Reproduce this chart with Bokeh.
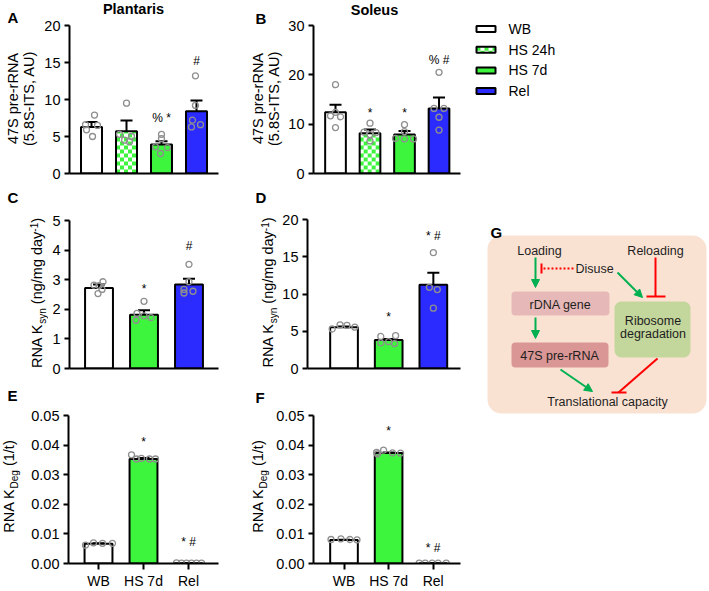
import math
from bokeh.plotting import figure
from bokeh.layouts import row, column
from bokeh.models import (ColumnDataSource, Range1d, FixedTicker, Whisker, TeeHead,
                          NumeralTickFormatter, Arrow, NormalHead)
from bokeh.core.properties import value, field
from bokeh.embed import file_html
from bokeh.resources import INLINE

# ------------------------------------------------------------------ data
groups4 = ["WB", "HS 24h", "HS 7d", "Rel"]
groups3 = ["WB", "HS 7d", "Rel"]

# A  Plantaris 47S pre-rRNA
a_mean = [6.3, 5.7, 3.92, 8.42]
a_sem = [0.65, 1.45, 0.45, 1.44]
a_points = [[7.9, 6.6, 6.5, 5.9, 5.0], [9.5, 5.3, 5.0, 4.5, 4.3],
            [5.3, 4.7, 3.6, 3.5, 2.7], [13.2, 9.2, 7.2, 6.6, 6.3]]
a_sig = ["", "", "% *", "#"]
a_sig_y = [0, 0, 7.0, 14.6]
a_ticks = [0, 5, 10, 15, 20]

# B  Soleus 47S pre-rRNA
b_mean = [12.4, 8.17, 7.9, 13.2]
b_sem = [1.55, 0.73, 0.7, 2.2]
b_points = [[18.0, 12.4, 11.7, 11.5, 9.3], [10.2, 8.4, 8.3, 7.9, 6.6],
            [9.9, 8.5, 7.1, 7.0, 7.0], [20.5, 13.2, 13.2, 11.4, 8.8]]
b_sig = ["", "*", "*", "% #"]
b_sig_y = [0, 11.4, 11.4, 22.2]
b_ticks = [0, 10, 20, 30]

# C  Plantaris RNA Ksyn
c_mean = [2.72, 1.82, 2.84]
c_sem = [0.12, 0.15, 0.19]
c_points = [[2.93, 2.82, 2.80, 2.67, 2.53], [2.27, 1.86, 1.78, 1.72, 1.63],
            [3.52, 2.93, 2.67, 2.61, 2.55]]
c_sig = ["", "*", "#"]
c_sig_y = [0, 2.56, 4.0]
c_ticks = [0, 1, 2, 3, 4, 5]

# D  Soleus RNA Ksyn
d_mean = [5.53, 3.82, 11.24]
d_sem = [0.12, 0.15, 1.62]
d_points = [[5.85, 5.78, 5.55, 5.3], [4.4, 4.3, 3.6, 3.45, 3.35],
            [15.55, 10.9, 10.6, 8.1]]
d_sig = ["", "*", "* #"]
d_sig_y = [0, 6.3, 17.2]
d_ticks = [0, 5, 10, 15, 20]

# E  Plantaris RNA Kdeg
e_mean = [0.0067, 0.0353, 0.0001]
e_sem = [0.0001, 0.0003, 0.00003]
e_points = [[0.0062, 0.0070, 0.0068, 0.0068], [0.0367, 0.0353, 0.0355, 0.0353, 0.0353],
            [0.0002, 0.0001, 0.0001, 0.0001, 0.0001, 0.0001]]
e_sig = ["", "*", "* #"]
e_sig_y = [0, 0.0398, 0.0057]
e_ticks = [0, 0.01, 0.02, 0.03, 0.04, 0.05]

# F  Soleus RNA Kdeg
f_mean = [0.0079, 0.0373, 0.00005]
f_sem = [0.0001, 0.0002, 0.00002]
f_points = [[0.0081, 0.0083, 0.0081, 0.0080], [0.0375, 0.0383, 0.0370, 0.0374, 0.0373],
            [0.0001, 0.0001, 0.0001, 0.0001, 0.0001]]
f_sig = ["", "*", "* #"]
f_sig_y = [0, 0.0432, 0.0039]
f_ticks = [0, 0.01, 0.02, 0.03, 0.04, 0.05]

# ------------------------------------------------------------------ point spread (px)
a_jit = [[3, -6, 6, -5, 1], [0, -7, 5, -2, 3], [0, 0, -6, 6, -1], [-1, -1, -4, 4, -5]]
b_jit = [[0, 0, -5, 5, 0], [0, -6, 6, 0, 0], [0, 0, -9, 0, 9], [0, -5, 5, 0, 0]]
c_jit = [[4, -5, 0, 3, -1], [0, -7, 0, 7, -8], [0, 0, -5, 4, -5]]
d_jit = [[-4, 3, 11, -12], [7, -8, 0, -8, 6], [0, -4, 4, 0]]
e_jit = [[-13, -5, 4, 14], [-12, -7, -2, 6, 12], [-12, -7, -2, 3, 8, 13]]
f_jit = [[-13, -3, 6, 13], [-12, -5, -11, 4, 12], [-14, -8, -1, 5, 13]]

# ------------------------------------------------------------------ styles / layout
FONT = "Liberation Sans"
GREEN = "#3EF53E"
BLUE = "#2B2BFF"
PT_COLOR = "#8f8f8f"
FILL = {"WB": "#FFFFFF", "HS 24h": "#FFFFFF", "HS 7d": GREEN, "Rel": BLUE}
CHECKER = {"HS 24h": True}
CHECK_PX = 4
MID = 0.35   # distance baseline -> visual middle, in em

# page-pixel geometry: cell = (x0, x1, y0, y1); split = x where label strip ends;
# title = y where title strip ends; frame = (left, right, top, bottom)
GEOM = {
    "A": dict(cell=(0, 236, 0, 190), split=40, title=18, frame=(69, 218, 25, 173), xr=(-0.629, 3.629)),
    "B": dict(cell=(236, 462, 0, 190), split=285, title=18, frame=(313, 460, 25, 173), xr=(-0.638, 3.623)),
    "C": dict(cell=(0, 236, 190, 378), split=48, title=None, frame=(69, 218, 220, 368), xr=(-0.656, 2.656)),
    "D": dict(cell=(236, 462, 190, 378), split=279, title=None, frame=(305, 460, 219, 368), xr=(-0.818, 2.608)),
    "E": dict(cell=(0, 236, 378, 591), split=22, title=None, frame=(68, 218, 415, 564), xr=(-0.667, 2.667)),
    "F": dict(cell=(236, 462, 378, 591), split=270, title=None, frame=(313, 460, 415, 564), xr=(-0.684, 2.612)),
}

WIDTHS = {'R': 722, 'N': 722, 'A': 667, 'K': 667, 's': 500, 'y': 500, 'n': 556, ' ': 278,
          '(': 333, ')': 333, 'g': 556, '/': 278, 'm': 833, 'd': 556, 'a': 556, '-': 333,
          '1': 556, 'D': 722, 'e': 556, 't': 278}


def tw(text, size):
    return sum(WIDTHS.get(c, 556) for c in text) * size / 1000.0


def page_fig(cell):
    cx0, cx1, cy0, cy1 = cell
    p = figure(width=cx1 - cx0, height=cy1 - cy0, x_range=Range1d(cx0, cx1),
               y_range=Range1d(cy1, cy0), output_backend="svg", toolbar_location=None,
               title=None, x_axis_location=None, y_axis_location=None, min_border=0)
    p.outline_line_color = None
    p.xgrid.visible = False
    p.ygrid.visible = False
    return p


def put(p, px, py, text, size, bold=False, align="left", angle=0.0):
    """(px, py) is the baseline point of the text, in page pixels"""
    up = MID * size
    ax = px - up * math.sin(angle)
    ay = py - up * math.cos(angle)
    p.text(x=[ax], y=[ay], text=[text], text_font=value(FONT), text_font_size=value("%spx" % size),
           text_font_style="bold" if bold else "normal", text_align=align,
           text_baseline="middle", angle=angle, text_color="black")


def rot_composite(p, base_x, center_y, pieces):
    # pieces: (text, size, baseline shift up, gap before)
    total = sum(tw(t, s) + gap for t, s, _, gap in pieces)
    y = center_y + total / 2.0
    for t, s, shift, gap in pieces:
        y -= gap
        put(p, base_x - shift, y, t, s, angle=math.pi / 2)
        y -= tw(t, s)


def checker_quads(x_lo, x_hi, y_lo, y_hi, dx, dy):
    """squares of a checker fill covering the box (x_lo..x_hi, y_lo..y_hi)"""
    ls, rs, bs, ts = [], [], [], []
    r = 0
    y = y_lo
    while y < y_hi - 1e-12:
        c = 0
        x = x_lo
        while x < x_hi - 1e-12:
            if (r + c) % 2 == 0:
                ls.append(x); rs.append(min(x + dx, x_hi))
                bs.append(y); ts.append(min(y + dy, y_hi))
            x += dx
            c += 1
        y += dy
        r += 1
    return ls, rs, bs, ts


def style_axis(ax):
    ax.axis_line_width = 2
    ax.axis_line_color = "black"
    ax.major_tick_line_width = 2
    ax.major_tick_line_color = "black"
    ax.major_tick_in = 0
    ax.minor_tick_line_color = None
    ax.major_label_text_font = FONT
    ax.major_label_text_font_size = "14.5px"
    ax.major_label_text_color = "black"


def bar_panel(key, groups, mean, sem, points, jit, sig, sig_y, ticks, bar_w, xlabels=False, fmt=None):
    g = GEOM[key]
    cx0, cx1, cy0, cy1 = g["cell"]
    px0 = g["split"]
    py0 = g["title"] if g["title"] else cy0
    L, R, T, B = g["frame"]
    x0, x1 = g["xr"]
    y0, y1 = ticks[0], ticks[-1]
    p = figure(width=cx1 - px0, height=cy1 - py0, x_range=Range1d(x0, x1),
               y_range=Range1d(y0, y1), output_backend="svg",
               toolbar_location=None, title=None,
               min_border_left=L - px0, min_border_right=cx1 - R,
               min_border_top=T - py0, min_border_bottom=cy1 - B)
    p.outline_line_color = None
    p.xgrid.visible = False
    p.ygrid.visible = False

    n = len(groups)
    xs_bar = list(range(n))
    src = ColumnDataSource(dict(
        x=xs_bar, top=list(mean),
        upper=[m + s for m, s in zip(mean, sem)],
        fill=[FILL[gr] for gr in groups]))
    p.vbar(x="x", top="top", bottom=0, width=bar_w, source=src,
           fill_color=field("fill"), line_color=None)

    ux = (x1 - x0) / float(R - L)
    uy = (y1 - y0) / float(B - T)
    for i, gr in enumerate(groups):
        if CHECKER.get(gr):
            ls, rs, bs, ts = checker_quads(i - bar_w / 2, i + bar_w / 2, 0, mean[i],
                                           CHECK_PX * ux, CHECK_PX * uy)
            p.quad(left=ls, right=rs, bottom=bs, top=ts, fill_color=GREEN, line_color=None)

    p.vbar(x="x", top="top", bottom=0, width=bar_w, source=src,
           fill_color=None, line_color="black", line_width=2)
    p.add_layout(Whisker(source=src, base="x", upper="upper", lower="top",
                         line_color="black", line_width=2,
                         upper_head=TeeHead(size=12, line_color="black", line_width=2),
                         lower_head=None))

    xs, ys = [], []
    for i, (vals, js) in enumerate(zip(points, jit)):
        for v, j in zip(vals, js):
            xs.append(i + j * ux)
            ys.append(v)
    p.scatter(xs, ys, marker="circle", size=6, line_color=PT_COLOR, line_width=1.3,
              fill_color=None)

    sx = [i for i, s in enumerate(sig) if s]
    p.text(x=sx, y=[sig_y[i] + MID * 12 * uy for i in sx], text=[sig[i] for i in sx],
           text_align="center", text_baseline="middle", text_font=value(FONT),
           text_font_size=value("12px"), text_color="black")

    ya = p.yaxis[0]
    style_axis(ya)
    ya.ticker = FixedTicker(ticks=ticks)
    ya.major_tick_out = 5
    ya.major_label_standoff = 4
    if fmt:
        ya.formatter = NumeralTickFormatter(format=fmt)
    xa = p.xaxis[0]
    style_axis(xa)
    if xlabels:
        xa.ticker = FixedTicker(ticks=xs_bar)
        xa.major_label_overrides = {i: gname for i, gname in enumerate(groups)}
        xa.major_tick_out = 6
        xa.major_label_standoff = 3
        xa.major_label_text_font_size = "14px"
    else:
        xa.ticker = FixedTicker(ticks=[])

    strip = page_fig((cx0, px0, cy0, cy1))
    title = page_fig((px0, cx1, cy0, g["title"])) if g["title"] else None
    return p, strip, title


pA, sA, tA = bar_panel("A", groups4, a_mean, a_sem, a_points, a_jit, a_sig, a_sig_y, a_ticks, 0.6)
pB, sB, tB = bar_panel("B", groups4, b_mean, b_sem, b_points, b_jit, b_sig, b_sig_y, b_ticks, 0.6)
pC, sC, _ = bar_panel("C", groups3, c_mean, c_sem, c_points, c_jit, c_sig, c_sig_y, c_ticks, 0.62)
pD, sD, _ = bar_panel("D", groups3, d_mean, d_sem, d_points, d_jit, d_sig, d_sig_y, d_ticks, 0.62)
pE, sE, _ = bar_panel("E", groups3, e_mean, e_sem, e_points, e_jit, e_sig, e_sig_y, e_ticks, 0.62,
                      xlabels=True, fmt="0.00")
pF, sF, _ = bar_panel("F", groups3, f_mean, f_sem, f_points, f_jit, f_sig, f_sig_y, f_ticks, 0.62,
                      xlabels=True, fmt="0.00")

# panel letters and titles (baseline positions)
put(sA, 7, 22, "A", 15, bold=True)
put(tA, 133, 13.5, "Plantaris", 14.5, bold=True, align="center")
put(sB, 255, 23, "B", 15, bold=True)
put(tB, 374, 14.5, "Soleus", 14.5, bold=True, align="center")
put(sC, 7, 202, "C", 15, bold=True)
put(sD, 255, 202, "D", 15, bold=True)
put(sE, 7, 400, "E", 15, bold=True)
put(sF, 255, 402, "F", 15, bold=True)

# y-axis titles
for s, bx in ((sA, 17.5), (sB, 262.5)):
    put(s, bx, 98, "47S pre-rRNA", 14.5, align="center", angle=math.pi / 2)
    put(s, bx + 16.5, 98, "(5.8S-ITS, AU)", 14.5, align="center", angle=math.pi / 2)

ksyn = [("RNA K", 14.5, 0, 0), ("syn", 10, -3.5, 0), ("(ng/mg day", 14.5, 0, tw(" ", 14.5)),
        ("-1", 10, 5.5, 0), (")", 14.5, 0, 0)]
kdeg = [("RNA K", 14.5, 0, 0), ("Deg", 10, -3.5, 0), ("(1/t)", 14.5, 0, tw(" ", 14.5))]
rot_composite(sC, 42, 292.5, ksyn)
rot_composite(sD, 273, 292, ksyn)
rot_composite(sE, 13.5, 486, kdeg)
rot_composite(sF, 263, 486, kdeg)

# ------------------------------------------------------------------ legend
pL = page_fig((462, 709, 0, 190))
leg_y = [28.5 + 20.7 * i for i in range(len(groups4))]
leg_l, leg_r = 476, 495
lsrc = ColumnDataSource(dict(
    left=[leg_l] * 4, right=[leg_r] * 4, top=[y - 3 for y in leg_y], bottom=[y + 3 for y in leg_y],
    fill=[FILL[gr] for gr in groups4], tx=[508] * 4, ty=leg_y, label=groups4))
pL.quad(left="left", right="right", top="top", bottom="bottom", source=lsrc,
        fill_color=field("fill"), line_color=None)
for i, gr in enumerate(groups4):
    if CHECKER.get(gr):
        ls, rs, bs, ts = checker_quads(leg_l, leg_r, leg_y[i] - 3, leg_y[i] + 3, CHECK_PX, CHECK_PX)
        pL.quad(left=ls, right=rs, bottom=bs, top=ts, fill_color=GREEN, line_color=None)
pL.quad(left="left", right="right", top="top", bottom="bottom", source=lsrc,
        fill_color=None, line_color="black", line_width=2)
pL.text(x="tx", y="ty", text="label", source=lsrc, text_baseline="middle", text_align="left",
        text_font=value(FONT), text_font_size=value("14px"), text_color="black")

# ------------------------------------------------------------------ G: schematic
pG = page_fig((462, 709, 190, 591))
RED = "#FF0000"
ARROW_GREEN = "#00B050"
TXT = "#1e1e1e"
box_l = [487, 511, 511, 614]
box_r = [706, 609, 608, 690]
box_t = [235, 291, 342, 301]
box_b = [413, 315, 367, 357]
box_c = ["#FAE2D3", "#E6B9B8", "#D99694", "#C3D69B"]
box_rad = [14, 4, 4, 7]
for l, r, t, b, c, rad in zip(box_l, box_r, box_t, box_b, box_c, box_rad):
    pG.quad(left=[l], right=[r], top=[t], bottom=[b], fill_color=c, line_color=None,
            border_radius=rad)

g_text = ["Loading", "Reloading", "Disuse", "rDNA gene", "47S pre-rRNA", "Ribosome",
          "degradation", "Translational capacity"]
g_tx = [539, 655, 594, 560, 559, 652.5, 652.5, 607]
g_ty = [250, 250, 268, 304, 355, 320, 333, 401]
pG.text(x=g_tx, y=g_ty, text=g_text, text_align="center", text_baseline="middle",
        text_font=value(FONT), text_font_size=value("12.5px"), text_color=TXT)
put(pG, 490, 237, "G", 15, bold=True)

arrows = [((535, 257), (535, 287)), ((535, 317), (535, 338)),
          ((617, 272), (642, 297)), ((560, 369), (592, 391))]
for (xs0, ys0), (xe, ye) in arrows:
    pG.add_layout(Arrow(x_start=xs0, y_start=ys0, x_end=xe, y_end=ye, line_color=ARROW_GREEN,
                        line_width=2, start=None,
                        end=NormalHead(size=8, fill_color=ARROW_GREEN, line_color=ARROW_GREEN,
                                       line_width=1)))

pG.segment(x0=[573], y0=[268], x1=[542], y1=[268], line_color=RED, line_width=2,
           line_dash="2 2")
pG.segment(x0=[655, 657, 541, 646, 611], y0=[257, 358, 263, 296, 392],
           x1=[655, 618, 541, 665, 626], y1=[296, 392, 273, 296, 392],
           line_color=RED, line_width=2)


# every figure sits in its own container so that Bokeh does not align neighbouring frames
def box(fig):
    return column(fig)


cellA = row(box(sA), column(row(tA), row(pA)))
cellB = row(box(sB), column(row(tB), row(pB)))
cellC = row(box(sC), box(pC))
cellD = row(box(sD), box(pD))
cellE = row(box(sE), box(pE))
cellF = row(box(sF), box(pF))
layout = row(column(cellA, cellC, cellE),
             column(cellB, cellD, cellF),
             column(box(pL), box(pG)))
open("out.html", "w").write(file_html(layout, INLINE, title="RNA synthesis and degradation"))
